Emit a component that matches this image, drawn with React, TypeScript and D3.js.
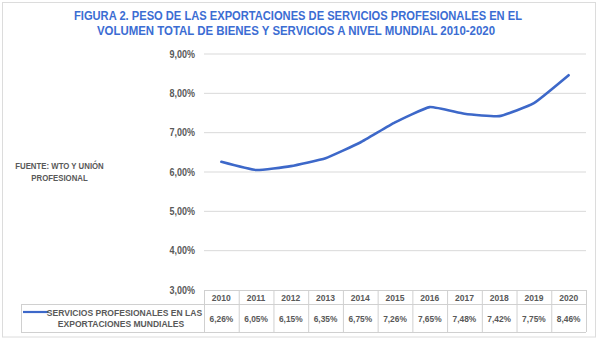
import React from "react";
import * as d3 from "d3";

const years = ["2010", "2011", "2012", "2013", "2014", "2015", "2016", "2017", "2018", "2019", "2020"];
const values = [6.26, 6.05, 6.15, 6.35, 6.75, 7.26, 7.65, 7.48, 7.42, 7.75, 8.46];
const yTicks = [3, 4, 5, 6, 7, 8, 9];
const titleLines = [
  "FIGURA 2. PESO DE LAS EXPORTACIONES DE SERVICIOS PROFESIONALES EN EL",
  "VOLUMEN TOTAL DE BIENES Y SERVICIOS A NIVEL MUNDIAL 2010-2020",
];
const sourceLines = ["FUENTE: WTO Y UNIÓN", "PROFESIONAL"];
const legendLines = ["SERVICIOS PROFESIONALES EN LAS", "EXPORTACIONES MUNDIALES"];

const fmt = (v: number) => v.toFixed(2).replace(".", ",") + "%";

const W = 600;
const H = 339;
const left = 204;
const right = 586;
const top = 54;
const bottom = 290;
const BLUE = "#3D68C9";
const GRAY = "#595959";
const FONT = "'Liberation Sans', Arial, sans-serif";

function CText({ x, y, size, sx = 0.9, anchor = "middle", children, fill = GRAY }: any) {
  return (
    <text
      transform={`translate(${x},${y}) scale(${sx},1)`}
      fontSize={size}
      fontWeight="bold"
      fontFamily={FONT}
      textAnchor={anchor}
      fill={fill}
    >
      {children}
    </text>
  );
}

export default function App() {
  const x = d3.scaleBand<string>().domain(years).range([left, right]).padding(0);
  const y = d3.scaleLinear().domain([3, 9]).range([bottom, top]);
  const cx = (yr: string) => (x(yr) as number) + x.bandwidth() / 2;
  const line = d3
    .line<number>()
    .x((_, i) => cx(years[i]))
    .y((d) => y(d))
    .curve(d3.curveCardinal.tension(0.6));

  const hdrTop = 290;
  const hdrBot = 304;
  const rowBot = 332;
  const legLeft = 21;
  const border = "#d0d0d0";

  return (
    <svg width={W} height={H} style={{ position: "absolute", left: 0, top: 0, background: "#fff" }}>
      <rect x={0} y={0} width={W} height={H} fill="#fff" />
      <rect x={2.5} y={2.5} width={593} height={334.5} fill="none" stroke="#dcdcdc" />
      {/* Title */}
      <text x={298} y={20} fontSize={12.5} fontWeight="bold" fontFamily={FONT} textAnchor="middle" fill="#3B6DD3" textLength={448} lengthAdjust="spacingAndGlyphs">
        {titleLines[0]}
      </text>
      <text x={296} y={35} fontSize={12.5} fontWeight="bold" fontFamily={FONT} textAnchor="middle" fill="#3B6DD3" textLength={398} lengthAdjust="spacingAndGlyphs">
        {titleLines[1]}
      </text>
      {/* Source */}
      {sourceLines.map((s, i) => (
        <CText key={s} x={59.5} y={169 + i * 11.5} size={8.5} sx={0.92}>
          {s}
        </CText>
      ))}
      {/* Gridlines */}
      {yTicks.map((t) => (
        <g key={t}>
          {t > 3 && <line x1={left} x2={right} y1={y(t)} y2={y(t)} stroke="#d9d9d9" strokeWidth={1} />}
          <CText x={195} y={y(t) + 3.5} size={10} sx={0.9} anchor="end">
            {fmt(t)}
          </CText>
        </g>
      ))}
      {/* Line */}
      <path d={line(values) || ""} fill="none" stroke={BLUE} strokeWidth={2.6} strokeLinejoin="round" strokeLinecap="round" />
      {/* Table */}
      <g stroke={border} strokeWidth={1} fill="none">
        <line x1={left} x2={right} y1={hdrTop + 0.5} y2={hdrTop + 0.5} />
        <line x1={legLeft} x2={right} y1={hdrBot + 0.5} y2={hdrBot + 0.5} />
        <line x1={legLeft} x2={right} y1={rowBot + 0.5} y2={rowBot + 0.5} />
        <line x1={legLeft + 0.5} x2={legLeft + 0.5} y1={hdrBot} y2={rowBot} />
        {years.map((yr) => (
          <line key={yr} x1={(x(yr) as number) + 0.5} x2={(x(yr) as number) + 0.5} y1={hdrTop} y2={rowBot} />
        ))}
        <line x1={right + 0.5} x2={right + 0.5} y1={hdrTop} y2={rowBot} />
      </g>
      {years.map((yr, i) => (
        <g key={yr}>
          <CText x={cx(yr)} y={300.5} size={9.5} sx={0.9}>
            {yr}
          </CText>
          <CText x={cx(yr)} y={321.5} size={9.5} sx={0.88}>
            {fmt(values[i])}
          </CText>
        </g>
      ))}
      {/* Legend */}
      <line x1={23} x2={48} y1={312} y2={312} stroke={BLUE} strokeWidth={2.2} />
      <CText x={124.5} y={315.5} size={9.5} sx={0.9}>
        {legendLines[0]}
      </CText>
      <CText x={121} y={327} size={9.5} sx={0.9}>
        {legendLines[1]}
      </CText>
    </svg>
  );
}
